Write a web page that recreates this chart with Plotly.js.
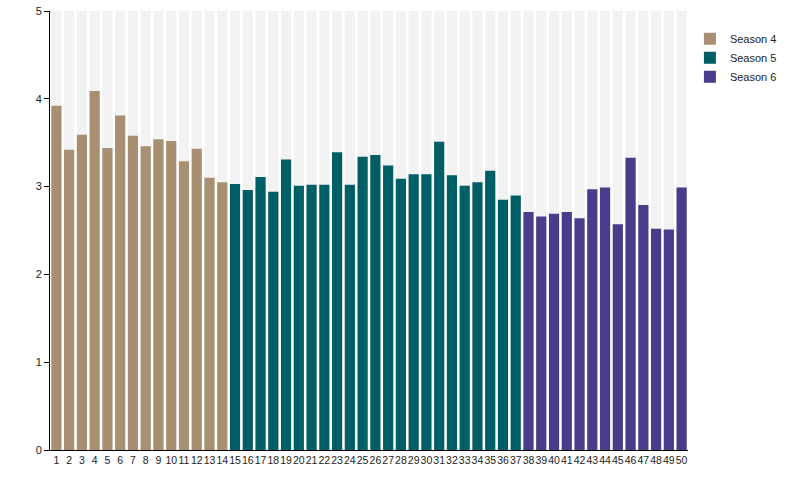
<!DOCTYPE html>
<html>
<head>
<meta charset="utf-8">
<script src="https://cdn.plot.ly/plotly-3.0.1.min.js"></script>
<style>
  html, body { margin: 0; padding: 0; background: #fff; }
  #chart { width: 787px; height: 500px; }
</style>
</head>
<body>
<div id="chart"></div>
<script>
let season4_eps = [1, 2, 3, 4, 5, 6, 7, 8, 9, 10, 11, 12, 13, 14]
let season4_vals = [3.92, 3.42, 3.59, 4.09, 3.44, 3.81, 3.58, 3.46, 3.54, 3.52, 3.29, 3.43, 3.10, 3.05]

let season5_eps = [15, 16, 17, 18, 19, 20, 21, 22, 23, 24, 25, 26, 27, 28, 29, 30, 31, 32, 33, 34, 35, 36, 37]
let season5_vals = [3.03, 2.96, 3.11, 2.94, 3.31, 3.01, 3.02, 3.02, 3.39, 3.02, 3.34, 3.36, 3.24, 3.09, 3.14, 3.14, 3.51, 3.13, 3.01, 3.05, 3.18, 2.85, 2.90]

let season6_eps = [38, 39, 40, 41, 42, 43, 44, 45, 46, 47, 48, 49, 50]
let season6_vals = [2.71, 2.66, 2.69, 2.71, 2.64, 2.97, 2.99, 2.57, 3.33, 2.79, 2.52, 2.51, 2.99]

let all_eps = season4_eps.concat(season5_eps, season6_eps)
let max_rating = 5

// light grey column behind every episode, up to the top of the scale
let background = {
  x: all_eps,
  y: all_eps.map(() => max_rating),
  type: "bar",
  marker: { color: "#f2f2f2" },
  showlegend: false,
  hoverinfo: "skip",
}

let s4 = {
  x: season4_eps,
  y: season4_vals,
  type: "bar",
  name: "Season 4",
  marker: { color: "#a98f71" },
}

let s5 = {
  x: season5_eps,
  y: season5_vals,
  type: "bar",
  name: "Season 5",
  marker: { color: "#005f66" },
}

let s6 = {
  x: season6_eps,
  y: season6_vals,
  type: "bar",
  name: "Season 6",
  marker: { color: "#483d8b" },
}

let layout = {
  width: 787,
  height: 500,
  margin: { l: 50, r: 99, t: 11, b: 50, autoexpand: false },
  paper_bgcolor: "#fff",
  plot_bgcolor: "#fff",
  barmode: "overlay",
  bargap: 0.2,
  font: { family: "Liberation Sans, Arial, sans-serif", size: 11, color: "#222" },
  xaxis: {
    range: [0.5, 50.5],
    tickvals: all_eps,
    ticktext: all_eps.map(String),
    showline: true,
    linecolor: "#000",
    linewidth: 1,
    ticks: "",
    showgrid: false,
    zeroline: false,
    tickfont: { size: 10.5 },
    tickangle: 0,
    automargin: false,
  },
  yaxis: {
    range: [0, 5],
    dtick: 1,
    showline: true,
    linecolor: "#000",
    linewidth: 1,
    ticks: "outside",
    ticklen: 5,
    tickcolor: "#000",
    showgrid: false,
    zeroline: false,
    automargin: false,
  },
  legend: {
    x: 1.003,
    xanchor: "left",
    y: 0.97,
    yanchor: "top",
    font: { size: 11 },
    tracegroupgap: 0,
  },
}

Plotly.newPlot("chart", [background, s4, s5, s6], layout, {
  displaylogo: false,
  displayModeBar: false,
})
</script>
</body>
</html>
